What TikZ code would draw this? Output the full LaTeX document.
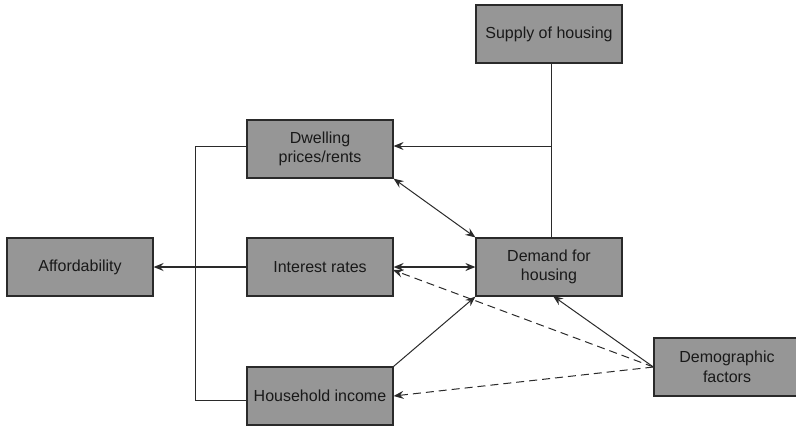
\documentclass[tikz,border=0pt]{standalone}
\usepackage{fontspec}
\setmainfont{Liberation Sans}
\usetikzlibrary{arrows.meta}
\definecolor{boxfill}{HTML}{969696}
\definecolor{ink}{HTML}{2A2A2A}
\begin{document}
\begin{tikzpicture}[x=1bp,y=-1bp,
  box/.style={draw=ink, line width=1.2bp, fill=boxfill, minimum width=146bp, minimum height=58bp,
    inner sep=2bp, align=center, font=\fontsize{16bp}{19.5bp}\selectfont, text=black!90},
  conn/.style={draw=ink, line width=1bp},
  arr/.style={conn, -{Stealth[length=10bp,width=8bp,inset=3.5bp]}},
  darr/.style={conn, {Stealth[length=10bp,width=8bp,inset=3.5bp]}-{Stealth[length=10bp,width=8bp,inset=3.5bp]}},
  dashline/.style={dash pattern=on 8bp off 5bp}]
\useasboundingbox (0,0) rectangle (796,425);
\node[box] (aff) at (80,267) {Affordability};
\node[box] (dwell) at (320,149) {Dwelling\\prices/rents};
\node[box] (int) at (320,267) {Interest rates};
\node[box] (inc) at (320,396) {Household income};
\node[box] (sup) at (549,34) {Supply of housing};
\node[box] (dem) at (549,267) {Demand for\\housing};
\node[box] (demo) at (727,367) {Demographic\\factors};
\coordinate (sj) at (551,146);
% supply line
\draw[conn] (sup.south -| sj) -- (dem.north -| sj);
\draw[arr] (sj) -- (dwell.east |- sj);
% bracket to affordability
\coordinate (bt) at (195,146);
\coordinate (bb) at (195,400);
\draw[conn] (dwell.west |- bt) -- (bt) -- (bb) -- (inc.west |- bb);
\draw[arr, line width=1.6bp] (int.west) -- (aff.east);
% demand relations
\draw[darr] (dwell.south east) -- (dem.north west);
\draw[darr, line width=1.6bp] (int.east) -- (dem.west);
\draw[arr] (inc.north east) -- (dem.south west);
\coordinate (dj) at (553,296);
\draw[arr] (demo.west) -- (dj);
\coordinate (ij) at (393,270);
\draw[arr, dashline] (demo.west) -- (ij);
\draw[arr, dashline] (demo.west) -- (inc.east);
\end{tikzpicture}
\end{document}
